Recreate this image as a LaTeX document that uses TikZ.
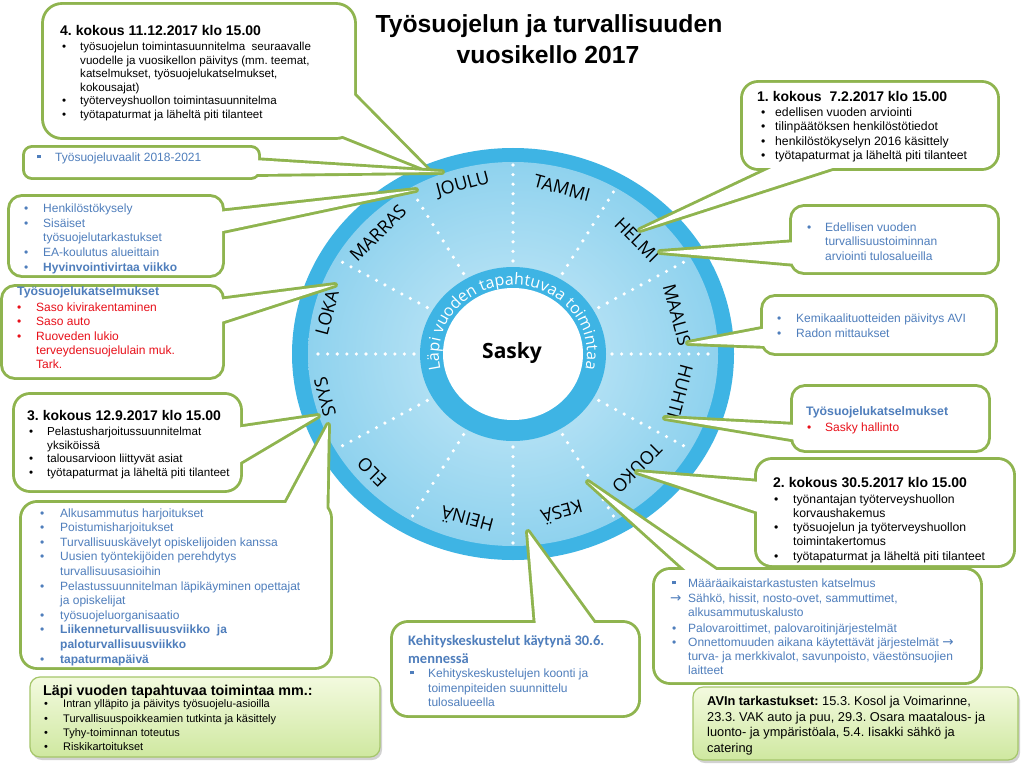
\documentclass[tikz,border=0pt]{standalone}
\usepackage{fontspec}
\setmainfont{Liberation Sans}
\newfontfamily\wheelfont{Open Sans}
\newfontfamily\calfont{Carlito}
\newfontfamily\dvfont{DejaVu Sans}
\usetikzlibrary{decorations.text,shadows}
\definecolor{cgreen}{HTML}{8FB44F}
\definecolor{tblue}{HTML}{4F7EBC}
\definecolor{tred}{HTML}{E8101A}
\definecolor{wblue}{HTML}{3EB4E4}
\definecolor{wlight}{HTML}{C9EAF8}
\definecolor{wmid}{HTML}{8FD2EE}
\definecolor{gtop}{HTML}{F3FADF}
\definecolor{gbot}{HTML}{CFE8A0}
\definecolor{gline}{HTML}{A5C66A}
\frenchspacing
\newcommand\fs[2]{\fontsize{#1}{#2}\selectfont}
\newcommand\bu[1]{\makebox[#1pt][l]{•}}
\newcommand\sq[1]{\makebox[#1pt][l]{\raisebox{2.6pt}{\rule{3.6pt}{3.6pt}}}}
\newcommand\arr{{\dvfont\fs{13.5}{14}→}}
\newcommand\callout[3]{%
  \draw[cstroke, rounded corners=#1] #2;
  \draw[cstroke] #3;
  \fill[white, rounded corners=#1] #2;
  \fill[white] #3;}
\begin{document}
\begin{tikzpicture}[x=1pt,y=-1pt,
  cstroke/.style={draw=cgreen, line width=5.8pt, line join=round},
  bt/.style={anchor=base west, inner sep=0pt, font=\fs{11.6}{14}},
  bk/.style={bt, font=\fs{12.2}{14}},
  bb/.style={anchor=base west, inner sep=0pt, text=tblue, font=\fs{12}{14}},
  br/.style={bb, text=tred},
  hd/.style={anchor=base west, inner sep=0pt, font=\bfseries\fs{14}{16}},
  hb/.style={anchor=base west, inner sep=0pt, text=tblue, font=\bfseries\fs{12.3}{14}},
  mon/.style={inner sep=0pt, font=\wheelfont\fs{18}{18}},
  gbox/.style={top color=gtop, bottom color=gbot, draw=gline, line width=1.2pt,
    drop shadow={opacity=0.35, shadow xshift=2pt, shadow yshift=-3pt}}]
\useasboundingbox (0,0) rectangle (1024,770);
\fill[white] (0,0) rectangle (1024,770);

% ---------- title
\node[anchor=base, inner sep=0pt, font=\bfseries\fs{24.7}{31}] (title1) at (549,33) {Työsuojelun ja turvallisuuden};
\node[anchor=base, inner sep=0pt, font=\bfseries\fs{24.7}{31}] (title2) at (548,64) {vuosikello 2017};

% ---------- wheel
\begin{scope}[shift={(513,354)}]
  \fill[wblue] (0,0) ellipse[x radius=221, y radius=206];
  \shade[inner color=wlight, outer color=wmid] (0,0) ellipse[x radius=205, y radius=192];
  \foreach \a in {0,30,...,330}
    \draw[white, line width=3.6pt, line cap=round, dash pattern=on 0pt off 9.6pt]
      (\a:99 and 93) -- (\a:204 and 190);
  \fill[wblue] (0,0) ellipse[x radius=93, y radius=87];
  \fill[white] (0,0) ellipse[x radius=70, y radius=66];
  \path[decorate, decoration={text along path, text align=center, text color=white,
      text={|\wheelfont\fs{16}{16}|Läpi vuoden tapahtuvaa toimintaa}}]
    (-225:74 and 69) arc[start angle=-225, end angle=45, x radius=74, y radius=69];
\end{scope}
\node[font=\wheelfont\bfseries\fs{21}{21}, inner sep=0pt] (sasky) at (512,353) {Sasky};
\node[mon, rotate=15]   (joulu)  at (463,185) {JOULU};
\node[mon, rotate=-15]  (tammi)  at (562,188) {TAMMI};
\node[mon, rotate=-45]  (helmi)  at (637,240) {HELMI};
\node[mon, rotate=-75]  (maalis) at (677,315) {MAALIS};
\node[mon, rotate=-105] (huhti)  at (680,392) {HUHTI};
\node[mon, rotate=-135] (touko)  at (637,468) {TOUKO};
\node[mon, rotate=-165] (kesa)   at (562,513) {KESÄ};
\node[mon, rotate=165]  (heina)  at (467,520) {HEINÄ};
\node[mon, rotate=135]  (elo)    at (372,472) {ELO};
\node[mon, rotate=105]  (syys)   at (325,397) {SYYS};
\node[mon, rotate=75]   (loka)   at (327,313) {LOKA};
\node[mon, rotate=45]   (marras) at (378,233) {MARRAS};

% ---------- 4. kokous
\callout{18}{(44,5) rectangle (354,137)}{(351,92) -- (428,170) -- (338,134) -- cycle}
\node[hd] (c4h) at (60,36) {4. kokous 11.12.2017 klo 15.00};
\node[bt] (c4a) at (62,51) {\bu{18}työsuojelun toimintasuunnitelma\ \ seuraavalle};
\node[bt] (c4b) at (80,65) {vuodelle ja vuosikellon päivitys (mm. teemat,};
\node[bt] (c4c) at (80,78) {katselmukset, työsuojelukatselmukset,};
\node[bt] (c4d) at (80,92) {kokousajat)};
\node[bt] (c4e) at (62,105) {\bu{18}työterveyshuollon toimintasuunnitelma};
\node[bt] (c4f) at (62,119) {\bu{18}työtapaturmat ja läheltä piti tilanteet};

% ---------- vaalit
\callout{7}{(25,148) rectangle (258,177)}{(254,160) -- (442,172) -- (254,174) -- cycle}
\node[bb] (cv1) at (37,161) {\sq{18}Työsuojeluvaalit 2018-2021};

% ---------- henkilöstökysely
\callout{12}{(10,197) rectangle (222,275)}{(218,212) -- (416,190) -- (218,232) -- cycle}
\node[bb] (ch1) at (24,212) {\bu{19}Henkilöstökysely};
\node[bb] (ch2) at (24,227) {\bu{19}Sisäiset};
\node[bb] (ch3) at (43,241) {työsuojelutarkastukset};
\node[bb] (ch4) at (24,256) {\bu{19}EA-koulutus alueittain};
\node[bb] (ch5) at (24,271) {\bu{19}\textbf{Hyvinvointivirtaa viikko}};

% ---------- työsuojelukatselmukset (left)
\callout{12}{(3,287) rectangle (222,377)}{(218,300) -- (335,285) -- (218,323) -- cycle}
\node[hb] (cth) at (17,295) {Työsuojelukatselmukset};
\node[br] (ct1) at (17,311) {\bu{19}Saso kivirakentaminen};
\node[br] (ct2) at (17,325) {\bu{19}Saso auto};
\node[br] (ct3) at (17,340) {\bu{19}Ruoveden lukio};
\node[br] (ct4) at (36,354) {terveydensuojelulain muk.};
\node[br] (ct5) at (36,368) {Tark.};

% ---------- 3. kokous
\callout{15}{(15,395) rectangle (240,490)}{(236,428) -- (318,416) -- (200,486) -- cycle}
\node[hd] (c3h) at (27,420) {3. kokous 12.9.2017 klo 15.00};
\node[bt] (c3a) at (29,435) {\bu{18}Pelastusharjoitussuunnitelmat};
\node[bt] (c3b) at (47,449) {yksiköissä};
\node[bt] (c3c) at (29,462) {\bu{18}talousarvioon liittyvät asiat};
\node[bt] (c3d) at (29,476) {\bu{18}työtapaturmat ja läheltä piti tilanteet};

% ---------- alkusammutus
\callout{15}{(22,503) rectangle (330,667)}{(284,507) -- (328,425) -- (326,536) -- cycle}
\node[bb] (ca1) at (40,517) {\bu{20}Alkusammutus harjoitukset};
\node[bb] (ca2) at (40,531.6) {\bu{20}Poistumisharjoitukset};
\node[bb] (ca3) at (40,546.2) {\bu{20}Turvallisuuskävelyt opiskelijoiden kanssa};
\node[bb] (ca4) at (40,560.8) {\bu{20}Uusien työntekijöiden perehdytys};
\node[bb] (ca5) at (60,575.4) {turvallisuusasioihin};
\node[bb] (ca6) at (40,590) {\bu{20}Pelastussuunnitelman läpikäyminen opettajat};
\node[bb] (ca7) at (60,604.6) {ja opiskelijat};
\node[bb] (ca8) at (40,619.2) {\bu{20}työsuojeluorganisaatio};
\node[bb] (ca9) at (40,633.8) {\bu{20}\textbf{Liikenneturvallisuusviikko\ \ ja}};
\node[bb] (ca10) at (60,648.4) {\textbf{paloturvallisuusviikko}};
\node[bb] (ca11) at (40,663) {\bu{20}\textbf{tapaturmapäivä}};

% ---------- läpi vuoden
\shade[gbox, rounded corners=10] (30,677) rectangle (380,757);
\node[hd, font=\bfseries\fs{14.3}{16}] (clh) at (43,695) {Läpi vuoden tapahtuvaa toimintaa mm.:};
\node[bt, font=\fs{11}{13}] (cl1) at (44,707) {\bu{19}Intran ylläpito ja päivitys työsuojelu-asioilla};
\node[bt, font=\fs{11}{13}] (cl2) at (44,722) {\bu{19}Turvallisuuspoikkeamien tutkinta ja käsittely};
\node[bt, font=\fs{11}{13}] (cl3) at (44,736) {\bu{19}Tyhy-toiminnan toteutus};
\node[bt, font=\fs{11}{13}] (cl4) at (44,750) {\bu{19}Riskikartoitukset};

% ---------- kehityskeskustelut
\callout{15}{(393,623) rectangle (638,715)}{(536,627) -- (528,532) -- (597,627) -- cycle}
\node[anchor=base west, inner sep=0pt, text=tblue, font=\calfont\bfseries\fs{14.5}{16}] (ckh1) at (408,645) {Kehityskeskustelut käytynä 30.6.};
\node[anchor=base west, inner sep=0pt, text=tblue, font=\calfont\bfseries\fs{14.5}{16}] (ckh2) at (408,663) {mennessä};
\node[bb] (ck1) at (410,677) {\sq{18}Kehityskeskustelujen koonti ja};
\node[bb] (ck2) at (428,692) {toimenpiteiden suunnittelu};
\node[bb] (ck3) at (428,706) {tulosalueella};

% ---------- määräaikaistarkastukset
\callout{15}{(655,570) rectangle (980,682)}{(690,574) -- (588,482) -- (722,574) -- cycle}
\node[bb] (cm1) at (672,587) {\sq{16}Määräaikaistarkastusten katselmus};
\node[bb] (cm2) at (670,602) {\makebox[18pt][l]{\arr}Sähkö, hissit, nosto-ovet, sammuttimet,};
\node[bb] (cm3) at (688,616) {alkusammutuskalusto};
\node[bb] (cm4) at (672,632) {\bu{16}Palovaroittimet, palovaroitinjärjestelmät};
\node[bb] (cm5) at (672,646) {\bu{16}Onnettomuuden aikana käytettävät järjestelmät \arr};
\node[bb] (cm6) at (688,660) {turva- ja merkkivalot, savunpoisto, väestönsuojien};
\node[bb] (cm7) at (688,674) {laitteet};

% ---------- AVI
\shade[gbox, rounded corners=10] (693,687) rectangle (1018,760);
\node[bt, font=\fs{12.8}{15}] (cav1) at (707,705) {\textbf{AVIn tarkastukset:} 15.3. Kosol ja Voimarinne,};
\node[bt, font=\fs{12.8}{15}] (cav2) at (707,721) {23.3. VAK auto ja puu, 29.3. Osara maatalous- ja};
\node[bt, font=\fs{12.8}{15}] (cav3) at (707,736) {luonto- ja ympäristöala, 5.4. Iisakki sähkö ja};
\node[bt, font=\fs{12.8}{15}] (cav4) at (707,752) {catering};

% ---------- 2. kokous
\callout{15}{(757,460) rectangle (1013,565)}{(761,482) -- (637,472) -- (761,513) -- cycle}
\node[hd] (c2h) at (773,487) {2. kokous 30.5.2017 klo 15.00};
\node[bk] (c2a) at (774,503) {\bu{19}työnantajan työterveyshuollon};
\node[bk] (c2b) at (793,517) {korvaushakemus};
\node[bk] (c2c) at (774,531) {\bu{19}työsuojelun ja työterveyshuollon};
\node[bk] (c2d) at (793,545) {toimintakertomus};
\node[bk] (c2e) at (774,560) {\bu{19}työtapaturmat ja läheltä piti tilanteet};

% ---------- työsuojelukatselmukset (right)
\callout{12}{(793,387) rectangle (988,450)}{(797,425) -- (665,418) -- (797,440) -- cycle}
\node[hb] (ct2h) at (806,415) {Työsuojelukatselmukset};
\node[br] (ct2a) at (807,431) {\bu{18}Sasky hallinto};

% ---------- kemikaalit
\callout{12}{(763,297) rectangle (995,353)}{(767,328) -- (688,343) -- (767,346) -- cycle}
\node[bb] (ckm1) at (777,322) {\bu{19}Kemikaalituotteiden päivitys AVI};
\node[bb] (ckm2) at (777,337) {\bu{19}Radon mittaukset};

% ---------- edellisen vuoden
\callout{12}{(792,207) rectangle (997,272)}{(796,242) -- (660,252) -- (796,264) -- cycle}
\node[bb] (ce1) at (807,231) {\bu{18}Edellisen vuoden};
\node[bb] (ce2) at (825,245.5) {turvallisuustoiminnan};
\node[bb] (ce3) at (825,260) {arviointi tulosalueilla};

% ---------- 1. kokous
\callout{15}{(743,83) rectangle (997,168)}{(780,164) -- (640,230) -- (845,164) -- cycle}
\node[hd] (c1h) at (757,102) {1. kokous\ \ 7.2.2017 klo 15.00};
\node[bk] (c1a) at (761,117) {\bu{14}edellisen vuoden arviointi};
\node[bk] (c1b) at (761,131) {\bu{14}tilinpäätöksen henkilöstötiedot};
\node[bk] (c1c) at (761,146) {\bu{14}henkilöstökyselyn 2016 käsittely};
\node[bk] (c1d) at (761,160) {\bu{14}työtapaturmat ja läheltä piti tilanteet};
\end{tikzpicture}
\end{document}
